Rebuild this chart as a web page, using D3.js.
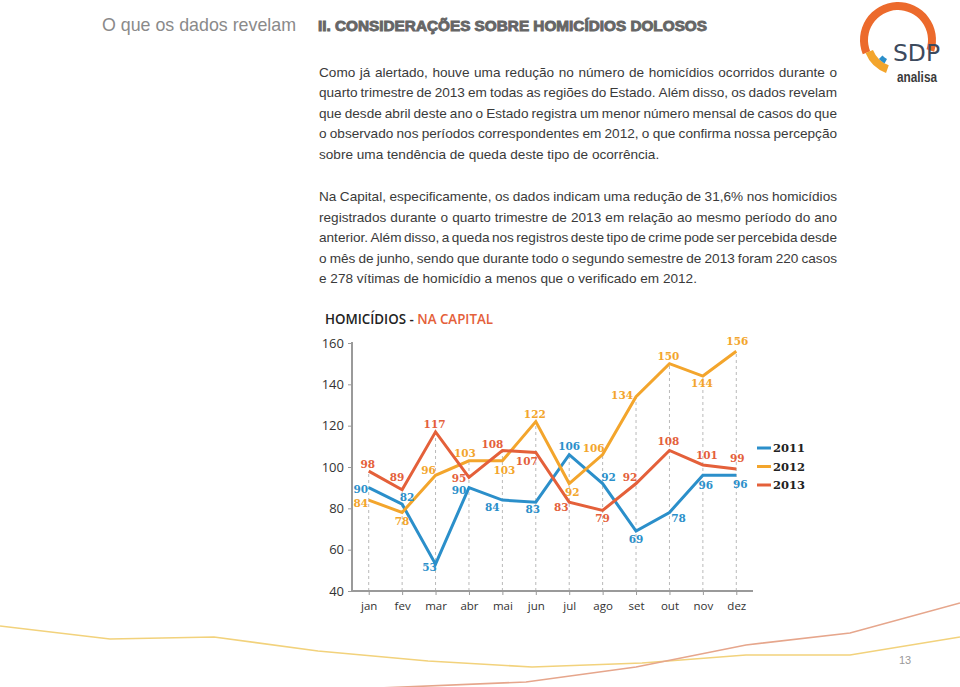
<!DOCTYPE html>
<html>
<head>
<meta charset="utf-8">
<script src="https://cdn.jsdelivr.net/npm/d3@7"></script>
<style>
html,body{margin:0;padding:0;background:#fff;}
svg{display:block;}
</style>
</head>
<body>
<svg id="page" width="960" height="687"></svg>
<script>
// ---------- DATA ----------
const months = ["jan","fev","mar","abr","mai","jun","jul","ago","set","out","nov","dez"];
const seriesNames = ["2011","2012","2013"];
const values2011 = [90,82,53,90,84,83,106,92,69,78,96,96];
const values2012 = [84,78,96,103,103,122,92,106,134,150,144,156];
const values2013 = [98,89,117,95,108,107,83,79,92,108,101,99];
const yTicks = [40,60,80,100,120,140,160];
const chartTitleA = "HOMICÍDIOS - ";
const chartTitleB = "NA CAPITAL";

// label placement (offset from point, px)
const labelOffsets2011 = [[-8,1],[5,-7],[-6,3],[-10,2],[-10,7],[-3,7],[0,-9],[6,-7],[0,8],[9,6],[3,10],[4,9]];
const labelOffsets2012 = [[-8,3],[0,9],[-7,-5],[-4,-8],[2,9],[-1,-8],[3,8],[-9,-7],[-14,-2],[-1,-8],[-1,7],[1,-10]];
const labelOffsets2013 = [[-1,-7],[-5,-13],[-1,-8],[-10,1],[-10,-6],[-9,8],[-8,5],[0,8],[-6,-7],[-1,-9],[4,-10],[1,-11]];

const para1 = [
 "Como já alertado, houve uma redução no número de homicídios ocorridos durante o",
 "quarto trimestre de 2013 em todas as regiões do Estado. Além disso, os dados revelam",
 "que desde abril deste ano o Estado registra um menor número mensal de casos do que",
 "o observado nos períodos correspondentes em 2012, o que confirma nossa percepção",
 "sobre uma tendência de queda deste tipo de ocorrência."
];
const para2 = [
 "Na Capital, especificamente, os dados indicam uma redução de 31,6% nos homicídios",
 "registrados durante o quarto trimestre de 2013 em relação ao mesmo período do ano",
 "anterior. Além disso, a queda nos registros deste tipo de crime pode ser percebida desde",
 "o mês de junho, sendo que durante todo o segundo semestre de 2013 foram 220 casos",
 "e 278 vítimas de homicídio a menos que o verificado em 2012."
];

// ---------- STYLE ----------
const colors = {"2011":"#2b8fca","2012":"#f3a52c","2013":"#e4603a"};
const labelFont = "DejaVu Serif, serif";
const svg = d3.select("#page");

// decorative bottom lines
const deco = svg.append("g").attr("fill","none");
deco.append("path")
  .attr("d", d3.line()([[0,626],[110,639],[214,637],[318,651],[428,661],[532,667],[642,663],[746,655],[850,655],[960,637]]))
  .attr("stroke","#f2d27c").attr("stroke-width",1.6);
deco.append("path")
  .attr("d", d3.line()([[379,688],[526,682],[636,667],[746,645],[850,633],[960,603]]))
  .attr("stroke","#e6a68c").attr("stroke-width",1.6);

// header
svg.append("text").attr("x",102).attr("y",31)
  .attr("font-family","Liberation Sans, Arial, sans-serif").attr("font-size",19)
  .attr("fill","#8a8a8a").attr("textLength",194).attr("lengthAdjust","spacingAndGlyphs")
  .text("O que os dados revelam");
svg.append("text").attr("x",318).attr("y",31)
  .attr("font-family","Liberation Sans, Arial, sans-serif").attr("font-size",14.5).attr("font-weight","bold")
  .attr("fill","#666").attr("stroke","#666").attr("stroke-width",0.9)
  .attr("textLength",389).attr("lengthAdjust","spacingAndGlyphs")
  .text("II. CONSIDERAÇÕES SOBRE HOMICÍDIOS DOLOSOS");

// logo
const logo = svg.append("g").attr("transform","translate(898,40)");
const arc = d3.arc();
logo.append("path").attr("d", arc({innerRadius:30,outerRadius:38,startAngle:-112*Math.PI/180,endAngle:108*Math.PI/180})).attr("fill","#ec6a2c");
logo.append("path").attr("d", arc({innerRadius:27,outerRadius:35,startAngle:-160*Math.PI/180,endAngle:-112*Math.PI/180})).attr("fill","#f3a52c");
logo.append("path").attr("d", arc({innerRadius:22,outerRadius:27,startAngle:-150*Math.PI/180,endAngle:-135*Math.PI/180})).attr("fill","#2b8fca");
svg.append("text").attr("x",893).attr("y",61).attr("font-family","DejaVu Sans, sans-serif").attr("font-size",23)
  .attr("fill","#3c4a5d").attr("textLength",47).attr("lengthAdjust","spacingAndGlyphs").text("SDP");
svg.append("text").attr("x",897).attr("y",82).attr("font-family","Liberation Sans, sans-serif").attr("font-size",15).attr("font-weight","bold")
  .attr("fill","#3a3a3a").attr("textLength",40).attr("lengthAdjust","spacingAndGlyphs").text("analisa");

// justified paragraphs
const textFont = "Liberation Sans, Arial, sans-serif";
const textSize = 13.6;
const measurer = svg.append("text").attr("font-family",textFont).attr("font-size",textSize).attr("visibility","hidden");
function measure(s){ measurer.text(s); return measurer.node().getComputedTextLength(); }
function paragraph(lines, x0, y0, width, lh){
  lines.forEach((line,i)=>{
    const words = line.split(" ");
    const ws = words.map(measure);
    const total = d3.sum(ws);
    const last = i === lines.length-1;
    const gap = last ? measure("a b") - measure("ab") : (width - total)/(words.length-1);
    const t = svg.append("text").attr("font-family",textFont).attr("font-size",textSize).attr("fill","#3a3a3a")
      .attr("y", y0 + i*lh);
    let x = x0;
    words.forEach((w,j)=>{
      t.append("tspan").attr("x",x).text(w + (j<words.length-1?" ":""));
      x += ws[j] + gap;
    });
  });
}
paragraph(para1, 319, 76.5, 518, 20.6);
paragraph(para2, 319, 201, 518, 20.6);
measurer.remove();

// chart title
const title = svg.append("text").attr("x",325).attr("y",324)
  .attr("font-family","Open Sans, sans-serif").attr("font-size",14.5).attr("font-weight",600)
  .attr("textLength",168).attr("lengthAdjust","spacingAndGlyphs");
title.append("tspan").attr("fill","#222").text(chartTitleA);
title.append("tspan").attr("fill","#e4603a").text(chartTitleB);

// ---------- CHART ----------
const x = d3.scalePoint().domain(months).range([352,753]).padding(0.5);
const y = d3.scaleLinear().domain([40,160]).range([591,343]);
const chart = svg.append("g");

const series = [
  {name:"2011", values:values2011, offsets:labelOffsets2011},
  {name:"2012", values:values2012, offsets:labelOffsets2012},
  {name:"2013", values:values2013, offsets:labelOffsets2013}
];

// dashed guides up to each month's max
chart.append("g").selectAll("line").data(months).join("line")
  .attr("x1",d=>x(d)).attr("x2",d=>x(d))
  .attr("y1",y(40))
  .attr("y2",(d,i)=>y(d3.max(series,s=>s.values[i])))
  .attr("stroke","#b9b9b9").attr("stroke-width",1).attr("stroke-dasharray","3,3");

// axes
const yAxis = chart.append("g").attr("transform","translate(352,0)")
  .call(d3.axisLeft(y).tickValues(yTicks).tickSize(4).tickPadding(6).tickFormat(d3.format("d")));
const xAxis = chart.append("g").attr("transform",`translate(0,${y(40)})`)
  .call(d3.axisBottom(x).tickSize(4).tickPadding(7));
[yAxis,xAxis].forEach(a=>{
  a.select(".domain").attr("stroke","#9a9a9a").attr("stroke-width",2);
  a.selectAll(".tick line").attr("stroke","#9a9a9a").attr("stroke-width",1);
  a.selectAll("text").attr("fill","#333").attr("font-family","Open Sans, sans-serif");
});
yAxis.select(".domain").attr("d","M0,591V342");
xAxis.select(".domain").attr("d","M352,0H753");
yAxis.selectAll("text").attr("font-size",13).attr("x",-8);
xAxis.selectAll("text").attr("font-size",11.5);

// lines
const line = d3.line().x((d,i)=>x(months[i])).y(d=>y(d));
chart.append("g").selectAll("path").data(series).join("path")
  .attr("d",d=>line(d.values))
  .attr("fill","none").attr("stroke",d=>colors[d.name]).attr("stroke-width",3)
  .attr("stroke-linejoin","miter");

// labels
series.forEach(s=>{
  chart.append("g").selectAll("text").data(s.values).join("text")
    .attr("x",(d,i)=>x(months[i]) + s.offsets[i][0])
    .attr("y",(d,i)=>y(d) + s.offsets[i][1])
    .attr("text-anchor","middle").attr("dominant-baseline","central")
    .attr("font-family",labelFont).attr("font-size",10.5).attr("font-weight","bold")
    .attr("fill",colors[s.name])
    .text(d=>d);
});

// legend
const legend = chart.append("g").selectAll("g").data(seriesNames).join("g")
  .attr("transform",(d,i)=>`translate(757,${448 + i*18.5})`);
legend.append("line").attr("x1",0).attr("x2",14).attr("stroke",d=>colors[d]).attr("stroke-width",3);
legend.append("text").attr("x",16).attr("dominant-baseline","central")
  .attr("font-family",labelFont).attr("font-size",11.5).attr("font-weight","bold")
  .attr("fill","#222").text(d=>d);

// page number
svg.append("text").attr("x",905).attr("y",664).attr("text-anchor","middle")
  .attr("font-family","Liberation Sans, sans-serif").attr("font-size",11).attr("fill","#999").text("13");
</script>
</body>
</html>
